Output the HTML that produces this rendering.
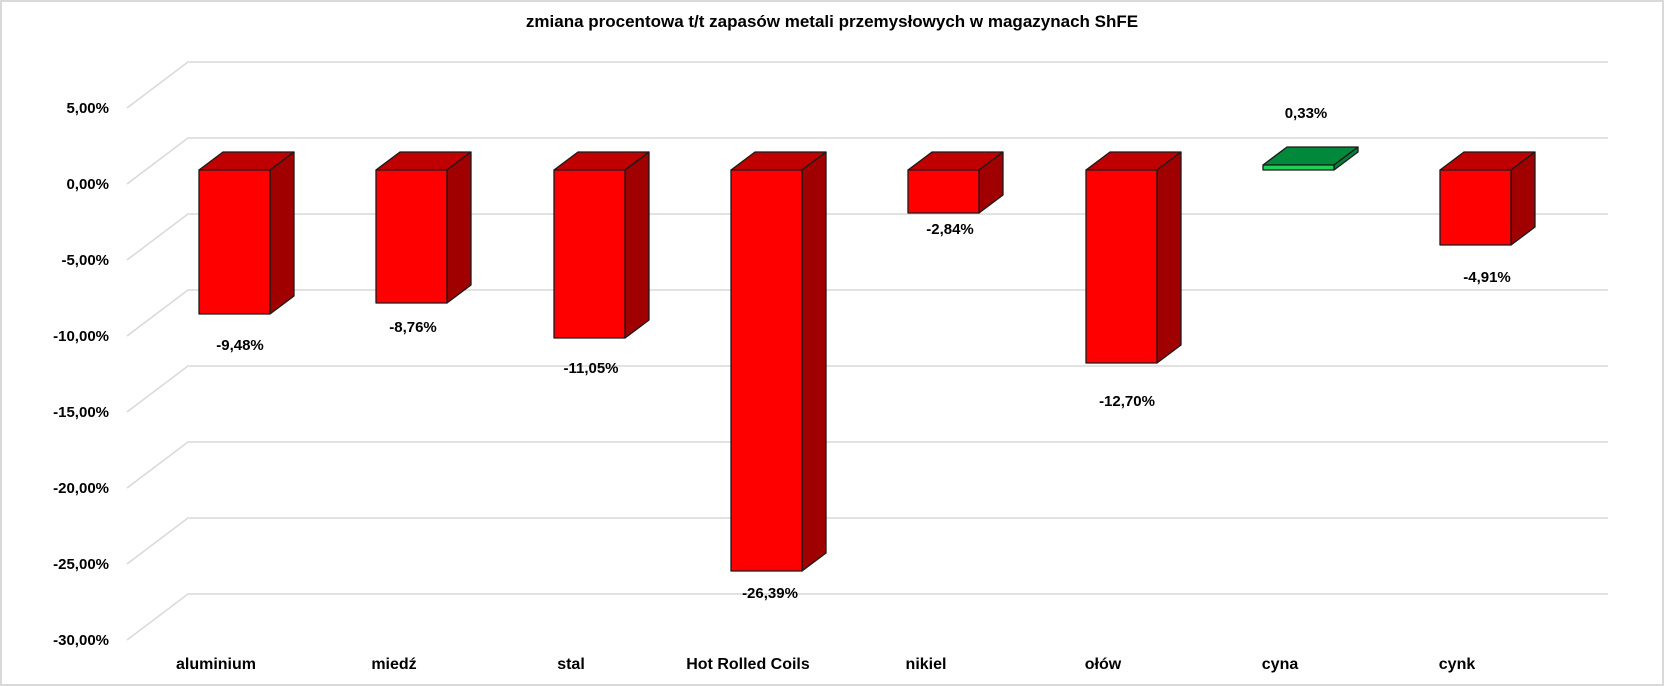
<!DOCTYPE html>
<html><head><meta charset="utf-8"><style>
html,body{margin:0;padding:0;background:#fff}
svg{display:block;font-family:"Liberation Sans",sans-serif;font-weight:bold}
</style></head><body>
<svg width="1664" height="686" viewBox="0 0 1664 686" xmlns="http://www.w3.org/2000/svg">
<rect x="1" y="1" width="1662" height="684" fill="#fff" stroke="#d9d9d9" stroke-width="2"/>
<text x="832" y="27" text-anchor="middle" font-size="17" fill="#000">zmiana procentowa t/t zapasów metali przemysłowych w magazynach ShFE</text>
<g stroke="#d9d9d9" stroke-width="1.5" fill="none">
<path d="M127 108 L188 62 H1608"/>
<path d="M127 184 L188 138 H1608"/>
<path d="M127 260 L188 214 H1608"/>
<path d="M127 336 L188 290 H1608"/>
<path d="M127 412 L188 366 H1608"/>
<path d="M127 488 L188 442 H1608"/>
<path d="M127 564 L188 518 H1608"/>
<path d="M127 640 L188 594 H1608"/>
</g>
<g font-size="15" text-anchor="end" fill="#000">
<text x="109" y="113">5,00%</text>
<text x="109" y="189">0,00%</text>
<text x="109" y="265">-5,00%</text>
<text x="109" y="341">-10,00%</text>
<text x="109" y="417">-15,00%</text>
<text x="109" y="493">-20,00%</text>
<text x="109" y="569">-25,00%</text>
<text x="109" y="645">-30,00%</text>
</g>
<g stroke="#1a1a1a" stroke-width="1.3" stroke-linejoin="round">
<!-- bars: x, bottom -->
<g>
<polygon points="199,170 223,152 294,152 270,170" fill="#C00000"/>
<polygon points="270,170 294,152 294,296 270,314" fill="#A00000"/>
<rect x="199" y="170" width="71" height="144" fill="#FF0000"/>
</g>
<g>
<polygon points="376,170 400,152 471,152 447,170" fill="#C00000"/>
<polygon points="447,170 471,152 471,285 447,303" fill="#A00000"/>
<rect x="376" y="170" width="71" height="133" fill="#FF0000"/>
</g>
<g>
<polygon points="554,170 578,152 649,152 625,170" fill="#C00000"/>
<polygon points="625,170 649,152 649,320 625,338" fill="#A00000"/>
<rect x="554" y="170" width="71" height="168" fill="#FF0000"/>
</g>
<g>
<polygon points="731,170 755,152 826,152 802,170" fill="#C00000"/>
<polygon points="802,170 826,152 826,553 802,571" fill="#A00000"/>
<rect x="731" y="170" width="71" height="401" fill="#FF0000"/>
</g>
<g>
<polygon points="908,170 932,152 1003,152 979,170" fill="#C00000"/>
<polygon points="979,170 1003,152 1003,195 979,213" fill="#A00000"/>
<rect x="908" y="170" width="71" height="43" fill="#FF0000"/>
</g>
<g>
<polygon points="1086,170 1110,152 1181,152 1157,170" fill="#C00000"/>
<polygon points="1157,170 1181,152 1181,345 1157,363" fill="#A00000"/>
<rect x="1086" y="170" width="71" height="193" fill="#FF0000"/>
</g>
<g>
<polygon points="1263,165 1287,147 1358,147 1334,165" fill="#00893A"/>
<polygon points="1334,165 1358,147 1358,152 1334,170" fill="#00803a"/>
<rect x="1263" y="165" width="71" height="5" fill="#1ED05A"/>
</g>
<g>
<polygon points="1440,170 1464,152 1535,152 1511,170" fill="#C00000"/>
<polygon points="1511,170 1535,152 1535,227 1511,245" fill="#A00000"/>
<rect x="1440" y="170" width="71" height="75" fill="#FF0000"/>
</g>
</g>
<g font-size="15" text-anchor="middle" fill="#000">
<text x="240" y="350">-9,48%</text>
<text x="413" y="332">-8,76%</text>
<text x="591" y="373">-11,05%</text>
<text x="770" y="598">-26,39%</text>
<text x="950" y="234">-2,84%</text>
<text x="1127" y="406">-12,70%</text>
<text x="1306" y="118">0,33%</text>
<text x="1487" y="282">-4,91%</text>
</g>
<g font-size="16" text-anchor="middle" fill="#000">
<text x="216" y="669">aluminium</text>
<text x="394" y="669">miedź</text>
<text x="571" y="669">stal</text>
<text x="748" y="669">Hot Rolled Coils</text>
<text x="926" y="669">nikiel</text>
<text x="1103" y="669">ołów</text>
<text x="1280" y="669">cyna</text>
<text x="1457" y="669">cynk</text>
</g>
</svg>
</body></html>
